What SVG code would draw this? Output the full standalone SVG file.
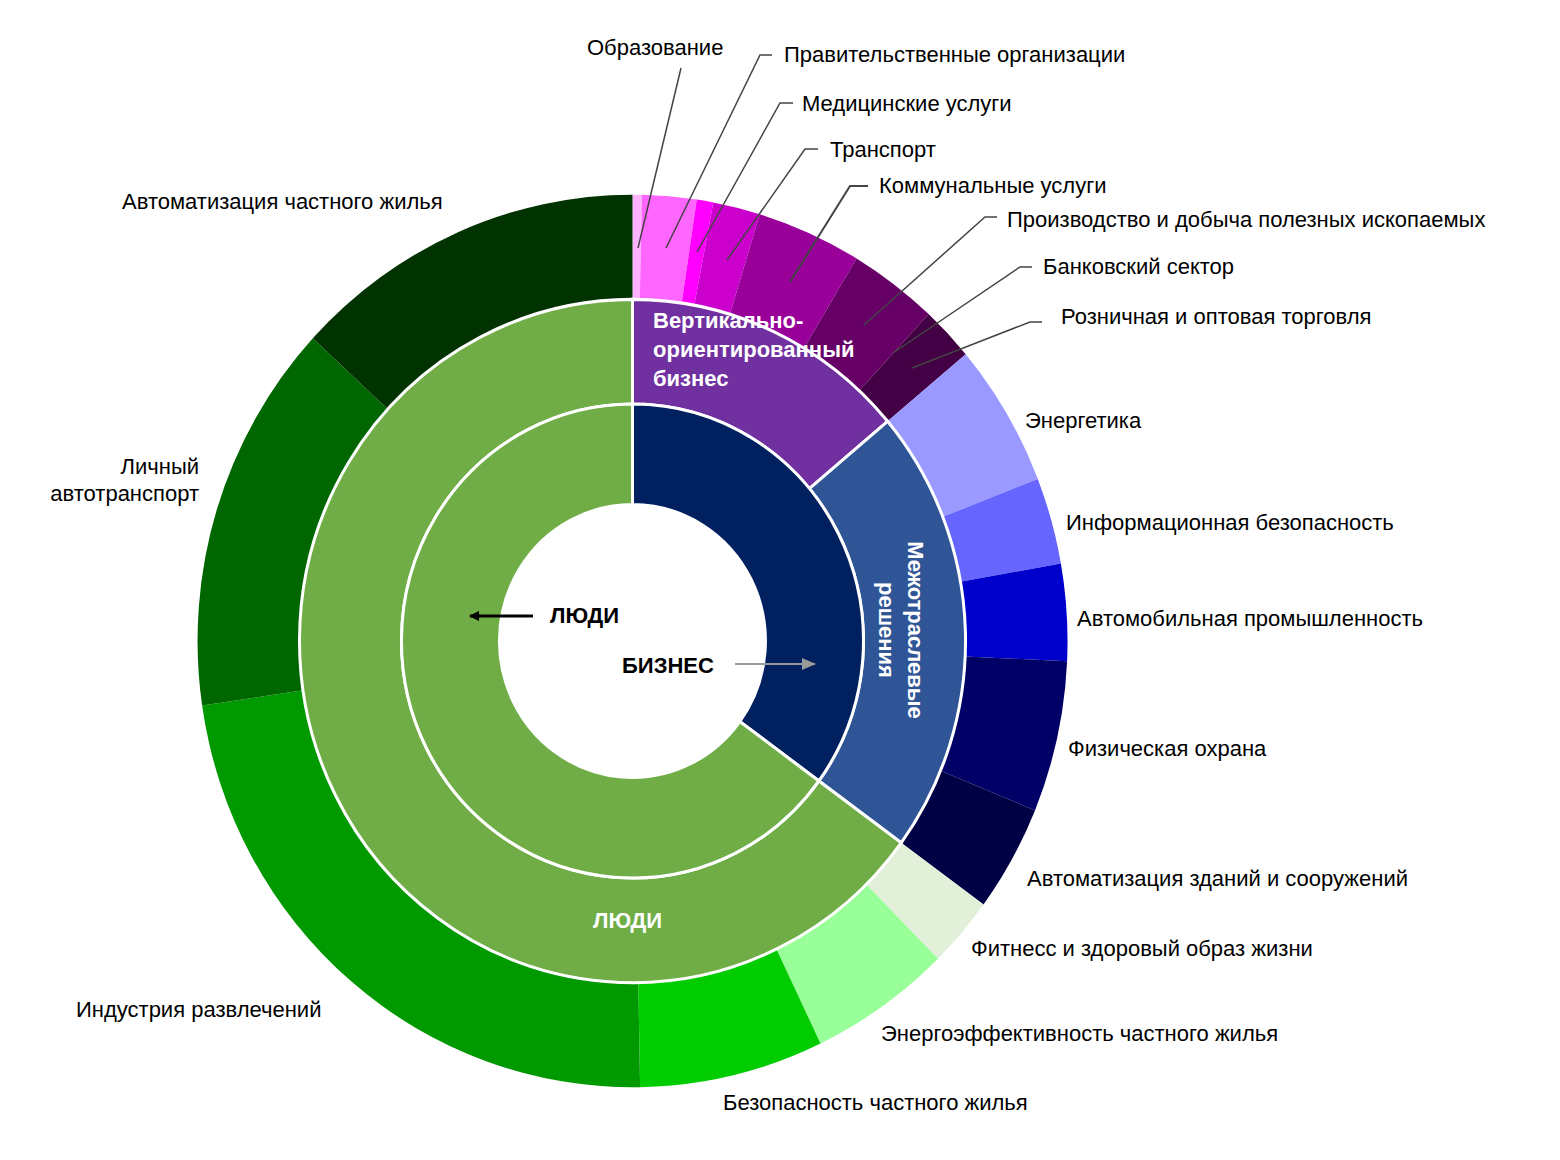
<svg xmlns="http://www.w3.org/2000/svg" width="1560" height="1160" viewBox="0 0 1560 1160">
<style>
.l{font-family:"Liberation Sans",Arial,sans-serif;font-size:22px;fill:#000}
.w{font-family:"Liberation Sans",Arial,sans-serif;font-size:22px;font-weight:bold;fill:#fff}
.b{font-family:"Liberation Sans",Arial,sans-serif;font-size:22px;font-weight:bold;fill:#000}
.ld{fill:none;stroke:#444;stroke-width:1.5}
.ring{stroke:#fff;stroke-width:3}
</style>
<defs>
<marker id="ab" markerWidth="10" markerHeight="10" refX="9" refY="5" orient="auto" markerUnits="userSpaceOnUse"><path d="M0,0 L10,5 L0,10 Z" fill="#000"/></marker>
<marker id="ag" markerWidth="14" markerHeight="12" refX="13" refY="6" orient="auto" markerUnits="userSpaceOnUse"><path d="M0,0 L14,6 L0,12 Z" fill="#999"/></marker>
</defs>
<rect width="1560" height="1160" fill="#fff"/>
<g transform="translate(632.5,641) scale(1,1.026)">
<g id="outer">
<path id="edu" d="M0,-435 A435,435 0 0 1 9.5,-434.9 L7.3,-332.9 A333,333 0 0 0 0,-333 Z" fill="#ffb3ff"/>
<path id="gov" d="M9.5,-434.9 A435,435 0 0 1 64.3,-430.2 L49.2,-329.3 A333,333 0 0 0 7.3,-332.9 Z" fill="#ff66ff"/>
<path id="med" d="M64.3,-430.2 A435,435 0 0 1 80.8,-427.4 L61.8,-327.2 A333,333 0 0 0 49.2,-329.3 Z" fill="#ff00ff"/>
<path id="trn" d="M80.8,-427.4 A435,435 0 0 1 127.2,-416 L97.4,-318.4 A333,333 0 0 0 61.8,-327.2 Z" fill="#cc00cc"/>
<path id="kom" d="M127.2,-416 A435,435 0 0 1 224,-372.9 L171.5,-285.4 A333,333 0 0 0 97.4,-318.4 Z" fill="#990099"/>
<path id="prd" d="M224,-372.9 A435,435 0 0 1 296.1,-318.6 L226.7,-243.9 A333,333 0 0 0 171.5,-285.4 Z" fill="#660066"/>
<path id="bnk" d="M296.1,-318.6 A435,435 0 0 1 333.2,-279.6 L255.1,-214.1 A333,333 0 0 0 226.7,-243.9 Z" fill="#440044"/>
<path id="enr" d="M333.2,-279.6 A435,435 0 0 1 405.3,-158 L310.3,-121 A333,333 0 0 0 255.1,-214.1 Z" fill="#9999ff"/>
<path id="inf" d="M405.3,-158 A435,435 0 0 1 428.4,-75.5 L327.9,-57.8 A333,333 0 0 0 310.3,-121 Z" fill="#6666ff"/>
<path id="aut" d="M428.4,-75.5 A435,435 0 0 1 434.6,19.7 L332.7,15.1 A333,333 0 0 0 327.9,-57.8 Z" fill="#0000cc"/>
<path id="phy" d="M434.6,19.7 A435,435 0 0 1 402.5,165.1 L308.1,126.4 A333,333 0 0 0 332.7,15.1 Z" fill="#000066"/>
<path id="bld" d="M402.5,165.1 A435,435 0 0 1 351,256.9 L268.7,196.7 A333,333 0 0 0 308.1,126.4 Z" fill="#000044"/>
<path id="fit" d="M351,256.9 A435,435 0 0 1 305.5,309.7 L233.8,237.1 A333,333 0 0 0 268.7,196.7 Z" fill="#e2f0d9"/>
<path id="eef" d="M305.5,309.7 A435,435 0 0 1 188,392.3 L143.9,300.3 A333,333 0 0 0 233.8,237.1 Z" fill="#99ff99"/>
<path id="sec" d="M188,392.3 A435,435 0 0 1 7.6,434.9 L5.8,332.9 A333,333 0 0 0 143.9,300.3 Z" fill="#00cc00"/>
<path id="ent" d="M7.6,434.9 A435,435 0 0 1 -430.4,62.8 L-329.5,48.1 A333,333 0 0 0 5.8,332.9 Z" fill="#009900"/>
<path id="car" d="M-430.4,62.8 A435,435 0 0 1 -319.7,-295 L-244.7,-225.8 A333,333 0 0 0 -329.5,48.1 Z" fill="#006600"/>
<path id="hom" d="M-319.7,-295 A435,435 0 0 1 0,-435 L0,-333 A333,333 0 0 0 -244.7,-225.8 Z" fill="#003300"/>
</g>
<g id="middle" class="ring">
<path id="vert" d="M0,-333 A333,333 0 0 1 255.1,-214.1 L176.9,-148.5 A231,231 0 0 0 0,-231 Z" fill="#7030a0"/>
<path id="cross" d="M255.1,-214.1 A333,333 0 0 1 268.7,196.7 L186.4,136.4 A231,231 0 0 0 176.9,-148.5 Z" fill="#2f5597"/>
<path id="peopleM" d="M268.7,196.7 A333,333 0 1 1 0,-333 L0,-231 A231,231 0 1 0 186.4,136.4 Z" fill="#70ad47"/>
</g>
<g id="inner" class="ring">
<path id="biz" d="M0,-231 A231,231 0 0 1 186.4,136.4 L107.3,78.5 A133,133 0 0 0 0,-133 Z" fill="#002060"/>
<path id="peopleI" d="M186.4,136.4 A231,231 0 1 1 0,-231 L0,-133 A133,133 0 1 0 107.3,78.5 Z" fill="#70ad47"/>
</g>
</g>
<g id="connectors">
<polyline class="ld" points="681,68 638,248"/>
<polyline class="ld" points="772,55 760,55 666,248"/>
<polyline class="ld" points="793,103 780,103 697,252"/>
<polyline class="ld" points="818,149 805,149 727,260"/>
<polyline class="ld" points="868,186 850,186 790,282" style="stroke-width:2"/>
<polyline class="ld" points="997,217 985,217 864,325"/>
<polyline class="ld" points="1032,267 1020,267 893,353"/>
<polyline class="ld" points="1042,322 1030,322 912,368"/>
<line x1="533" y1="616" x2="470" y2="616" stroke="#000" stroke-width="3" marker-end="url(#ab)"/>
<line x1="735" y1="664" x2="815" y2="664" stroke="#999" stroke-width="2" marker-end="url(#ag)"/>
</g>
<g id="labels">
<text class="l" x="587" y="55">Образование</text>
<text class="l" x="784" y="62">Правительственные организации</text>
<text class="l" x="802" y="111">Медицинские услуги</text>
<text class="l" x="830" y="157">Транспорт</text>
<text class="l" x="879" y="193">Коммунальные услуги</text>
<text class="l" x="1007" y="227">Производство и добыча полезных ископаемых</text>
<text class="l" x="1043" y="274">Банковский сектор</text>
<text class="l" x="1061" y="324">Розничная и оптовая торговля</text>
<text class="l" x="1025" y="428">Энергетика</text>
<text class="l" x="1066" y="530">Информационная безопасность</text>
<text class="l" x="1077" y="626">Автомобильная промышленность</text>
<text class="l" x="1068" y="756">Физическая охрана</text>
<text class="l" x="1027" y="886">Автоматизация зданий и сооружений</text>
<text class="l" x="971" y="956">Фитнесс и здоровый образ жизни</text>
<text class="l" x="881" y="1041">Энергоэффективность частного жилья</text>
<text class="l" x="723" y="1110">Безопасность частного жилья</text>
<text class="l" x="76" y="1017">Индустрия развлечений</text>
<text class="l" x="199" y="474" text-anchor="end">Личный</text>
<text class="l" x="199" y="501" text-anchor="end">автотранспорт</text>
<text class="l" x="122" y="209">Автоматизация частного жилья</text>
<text class="w" x="653" y="328">Вертикально-</text>
<text class="w" x="653" y="357">ориентированный</text>
<text class="w" x="653" y="386">бизнес</text>
<text class="w" transform="translate(908,630) rotate(90)" text-anchor="middle">Межотраслевые</text>
<text class="w" transform="translate(879,630) rotate(90)" text-anchor="middle">решения</text>
<text class="b" x="550" y="623">ЛЮДИ</text>
<text class="b" x="622" y="673">БИЗНЕС</text>
<text class="w" x="593" y="928">ЛЮДИ</text>
</g>
</svg>
